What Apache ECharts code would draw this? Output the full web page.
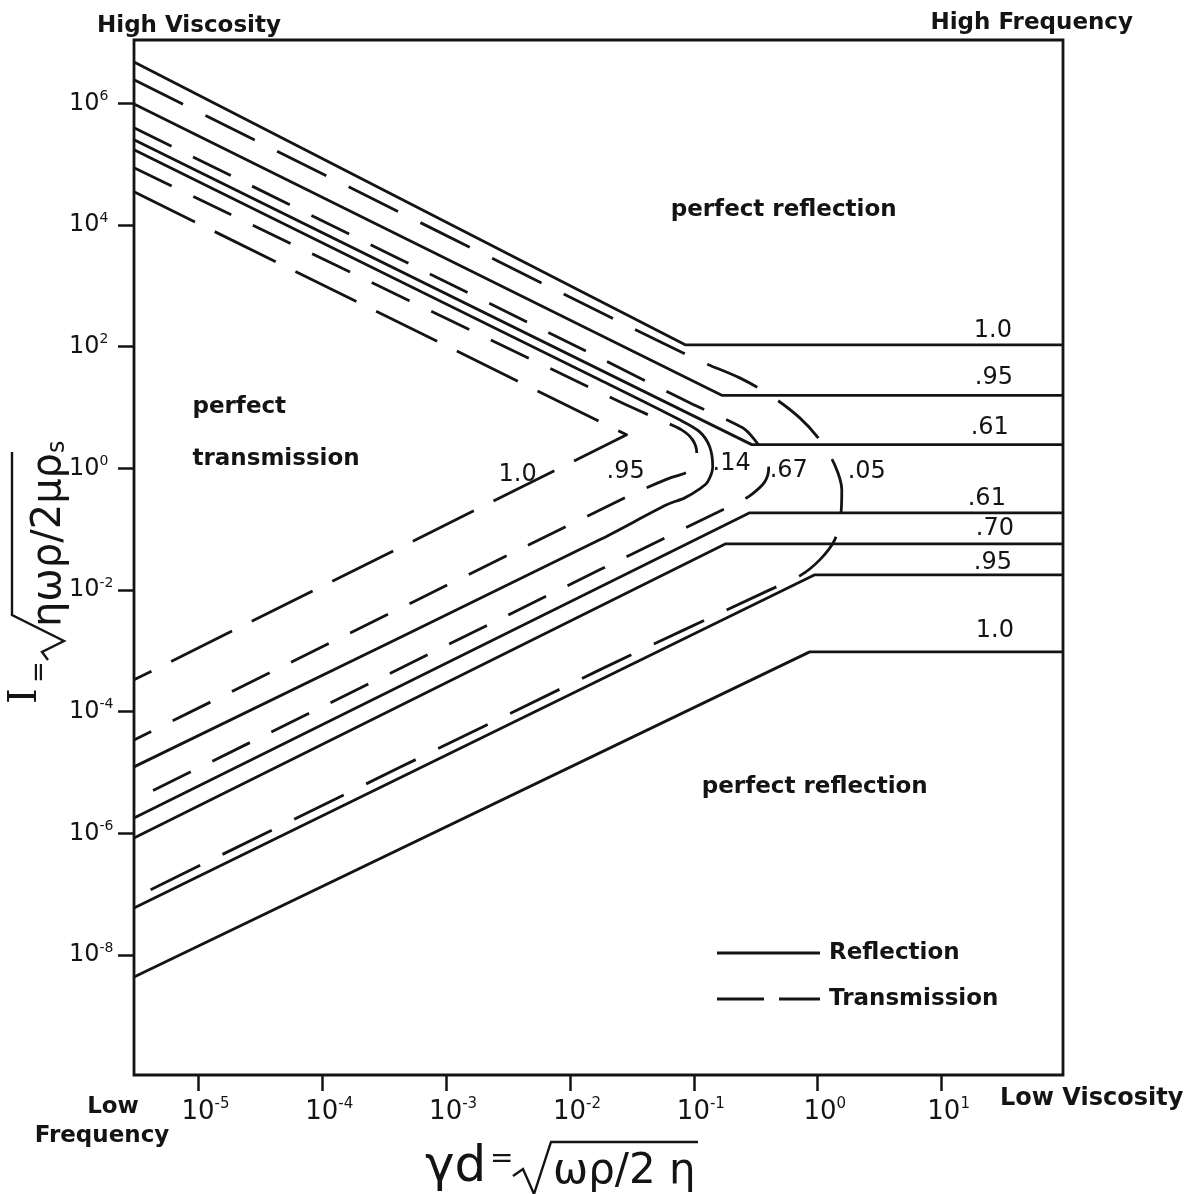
<!DOCTYPE html>
<html><head><meta charset="utf-8">
<script src="https://cdn.jsdelivr.net/npm/echarts@6/dist/echarts.min.js"></script>
<style>html,body{margin:0;padding:0;background:#fff}#c{width:1202px;height:1194px}</style>
</head><body><div id="c"></div>
<script>
// All values are log10 units: x = log10(γd), y = log10(I)
const xTicks = [-5, -4, -3, -2, -1, 0, 1];
const yTicks = [6, 4, 2, 0, -2, -4, -6, -8];

// Reflection curves (solid)
const reflUp100 = [[-5.52, 6.68], [-1.07, 2.03], [1.98, 2.03]];
const reflUp095 = [[-5.52, 5.99], [-0.775, 1.20], [1.98, 1.20]];
const reflUp061 = [[-5.52, 5.40], [-0.533, 0.39], [1.98, 0.39]];
const refl014 = [[-5.52, 5.235], [-1.761, 1.455], [-1.115, 0.797], [-0.953, 0.600], [-0.872, 0.353], [-0.848, 0.025], [-0.889, -0.222], [-0.953, -0.337], [-1.074, -0.485], [-1.220, -0.600], [-1.761, -1.175], [-5.52, -4.906]];
const reflLo061 = [[-5.52, -5.745], [-0.549, -0.731], [1.98, -0.731]];
const reflLo070 = [[-5.52, -6.073], [-0.743, -1.241], [1.98, -1.241]];
const reflLo095 = [[-5.52, -7.224], [-0.024, -1.75], [1.98, -1.75]];
const reflLo100 = [[-5.52, -8.358], [-0.065, -3.016], [1.98, -3.016]];

// Transmission curves (dashed)
const trans100 = [[-5.52, 4.545], [-1.543, 0.551], [-5.52, -3.476]];
const trans095 = [[-5.52, 4.939], [-1.599, 1.093], [-1.276, 0.797], [-1.099, 0.633], [-1.010, 0.468], [-0.977, 0.255], [-0.994, 0.058], [-1.050, -0.058], [-1.212, -0.173], [-1.543, -0.468], [-5.52, -4.463]];
const trans067 = [[-5.52, 5.597], [-1.761, 1.816], [-1.034, 1.077], [-0.606, 0.666], [-0.509, 0.468], [-0.428, 0.222], [-0.396, 0.008], [-0.428, -0.222], [-0.549, -0.452], [-0.670, -0.583], [-1.761, -1.668], [-5.52, -5.449]];
const trans005 = [[-5.52, 6.386], [-1.599, 2.408], [-0.953, 1.767], [-0.630, 1.487], [-0.388, 1.208], [-0.145, 0.830], [0.016, 0.468], [0.137, 0.058], [0.194, -0.353], [0.186, -0.764], [0.137, -1.175], [0.016, -1.504], [-0.145, -1.767], [-0.388, -1.997], [-1.761, -3.312], [-5.52, -7.059]];

// Annotation texts placed at data coordinates
const regionLabels = [
  ['perfect reflection', -0.275, 4.249],
  ['perfect reflection', -0.024, -5.235]
];
const regionLeftLabels = [
  ['perfect', -5.048, 1.011],
  ['transmission', -5.048, 0.156]
];
const curveLabels = [
  ['1.0', -2.423, -0.107], ['.95', -1.551, -0.058], ['.14', -0.695, 0.074],
  ['.67', -0.234, -0.041], ['.05', 0.396, -0.058],
  ['1.0', 1.414, 2.26], ['.95', 1.422, 1.487], ['.61', 1.389, 0.666],
  ['.61', 1.365, -0.501], ['.70', 1.430, -0.994], ['.95', 1.414, -1.553], ['1.0', 1.430, -2.671]
];

const INK = '#141414';
const F = 'DejaVu Sans';
const chart = echarts.init(document.getElementById('c'), null, {renderer: 'canvas'});

function sup(v) { const e = Math.round(v); return e < 0 ? '-' + (-e) : String(e); }

function lineSeries(name, data, type, smooth) {
  return {
    type: 'line', name: name, data: data, symbol: 'none', showSymbol: false,
    smooth: smooth || false, silent: true, animation: false, z: 3,
    itemStyle: {color: INK},
    lineStyle: {color: INK, width: 2.8, type: type, cap: 'butt', join: 'round'}
  };
}

const series = [
  lineSeries('Reflection', reflUp100, 'solid'),
  lineSeries('Reflection', reflUp095, 'solid'),
  lineSeries('Reflection', reflUp061, 'solid'),
  lineSeries('Reflection', refl014, 'solid', 0.3),
  lineSeries('Reflection', reflLo061, 'solid'),
  lineSeries('Reflection', reflLo070, 'solid'),
  lineSeries('Reflection', reflLo095, 'solid'),
  lineSeries('Reflection', reflLo100, 'solid'),
  lineSeries('Transmission', trans100, [68, 22]),
  lineSeries('Transmission', trans095, [42, 24], 0.3),
  lineSeries('Transmission', trans067, [42, 24], 0.3),
  lineSeries('Transmission', trans005, [55, 25], 0.3),
  {
    type: 'scatter', name: 'labels', symbolSize: 0, silent: true, animation: false, z: 5,
    itemStyle: {opacity: 1, color: INK},
    data: [].concat(
      regionLabels.map(d => ({value: [d[1], d[2]], name: d[0],
        label: {show: true, position: 'inside', formatter: d[0], fontFamily: F, fontWeight: 'bold', fontSize: 23, color: INK, opacity: 1}})),
      regionLeftLabels.map(d => ({value: [d[1], d[2]], name: d[0],
        label: {show: true, position: 'right', distance: 0, formatter: d[0], fontFamily: F, fontWeight: 'bold', fontSize: 23, color: INK, opacity: 1}})),
      curveLabels.map(d => ({value: [d[1], d[2]], name: d[0],
        label: {show: true, position: 'inside', formatter: d[0], fontFamily: F, fontSize: 24, color: INK, opacity: 1}}))
    )
  }
];

const option = {
  backgroundColor: '#fff',
  animation: false,
  grid: {left: 134, right: 139, top: 40, bottom: 119, show: true, borderColor: INK, borderWidth: 2.8, backgroundColor: 'transparent'},
  legend: {
    data: [
      {name: 'Reflection', icon: 'path://M0,0H103V3H0Z'},
      {name: 'Transmission', icon: 'path://M0,0H47V3H0ZM62,0H103V3H62Z'}
    ],
    orient: 'vertical', left: 712, top: 936, itemWidth: 103, itemHeight: 3, itemGap: 22,
    selectedMode: false, inactiveColor: INK,
    itemStyle: {color: INK},
    textStyle: {fontFamily: F, fontWeight: 'bold', fontSize: 23, color: INK, lineHeight: 24, padding: [0, 0, 0, 4]}
  },
  xAxis: {
    type: 'value', min: -5.52, max: 1.98,
    axisLine: {show: false, onZero: false}, splitLine: {show: false},
    axisTick: {show: true, customValues: xTicks, length: 16, lineStyle: {color: INK, width: 2.5}},
    axisLabel: {
      customValues: xTicks, margin: 22,
      formatter: v => '{p|}{b|10}{s|' + sup(v) + '}',
      rich: {
        p: {width: 14},
        b: {fontFamily: F, fontSize: 26, color: INK, lineHeight: 30},
        s: {fontFamily: F, fontSize: 15, color: INK, verticalAlign: 'top', lineHeight: 16}
      }
    }
  },
  yAxis: {
    type: 'value', min: -9.97, max: 7.04,
    axisLine: {show: false, onZero: false}, splitLine: {show: false},
    axisTick: {show: true, customValues: yTicks, length: 16, lineStyle: {color: INK, width: 2.5}},
    axisLabel: {
      customValues: yTicks, margin: 65, align: 'left',
      formatter: v => '{b|10}{s|' + sup(v) + '}',
      rich: {
        b: {fontFamily: F, fontSize: 24, color: INK, lineHeight: 28},
        s: {fontFamily: F, fontSize: 14, color: INK, verticalAlign: 'top', lineHeight: 15}
      }
    }
  },
  graphic: [
    {type: 'text', x: 97, y: 26, style: {text: 'High Viscosity', fontFamily: F, fontWeight: 'bold', fontSize: 23, fill: INK, align: 'left', verticalAlign: 'middle'}},
    {type: 'text', x: 1133, y: 23, style: {text: 'High Frequency', fontFamily: F, fontWeight: 'bold', fontSize: 23, fill: INK, align: 'right', verticalAlign: 'middle'}},
    {type: 'text', x: 1000, y: 1099, style: {text: 'Low Viscosity', fontFamily: F, fontWeight: 'bold', fontSize: 24, fill: INK, align: 'left', verticalAlign: 'middle'}},
    {type: 'text', x: 113, y: 1107, style: {text: 'Low', fontFamily: F, fontWeight: 'bold', fontSize: 23, fill: INK, align: 'center', verticalAlign: 'middle'}},
    {type: 'text', x: 102, y: 1136, style: {text: 'Frequency', fontFamily: F, fontWeight: 'bold', fontSize: 23, fill: INK, align: 'center', verticalAlign: 'middle'}},
    // x-axis title: γd = √(ωρ/2η)
    {type: 'text', x: 425, y: 1168, style: {text: 'γd', fontFamily: F, fontSize: 50, fill: INK, align: 'left', verticalAlign: 'middle'}},
    {type: 'text', x: 490, y: 1160, style: {text: '=', fontFamily: F, fontSize: 28, fill: INK, align: 'left', verticalAlign: 'middle'}},
    {type: 'polyline', shape: {points: [[513, 1176], [523, 1169], [534, 1194], [551, 1142], [698, 1142]]}, style: {stroke: INK, lineWidth: 2.4, fill: null}},
    {type: 'text', x: 553, y: 1172, style: {text: 'ωρ/2 η', fontFamily: F, fontSize: 42, fill: INK, align: 'left', verticalAlign: 'middle'}},
    // y-axis title: I = √(ηωρ/2μρs), rotated
    {type: 'text', x: 26, y: 696, rotation: Math.PI / 2, style: {text: 'I', fontFamily: 'DejaVu Serif', fontSize: 40, fill: INK, align: 'center', verticalAlign: 'middle'}},
    {type: 'text', x: 40, y: 672, rotation: Math.PI / 2, style: {text: '=', fontFamily: F, fontSize: 26, fill: INK, align: 'center', verticalAlign: 'middle'}},
    {type: 'polyline', shape: {points: [[48, 660], [42, 652], [64, 641], [12, 615], [12, 452]]}, style: {stroke: INK, lineWidth: 2.4, fill: null}},
    {type: 'text', x: 50, y: 627, rotation: Math.PI / 2, style: {text: '{m|ηωρ/2μρ}{sub|s}', fill: INK, align: 'left', verticalAlign: 'middle',
      rich: {m: {fontFamily: F, fontSize: 40, fill: INK}, sub: {fontFamily: F, fontSize: 24, fill: INK, verticalAlign: 'bottom'}}}}
  ],
  series: series
};
chart.setOption(option);
</script>
</body></html>
